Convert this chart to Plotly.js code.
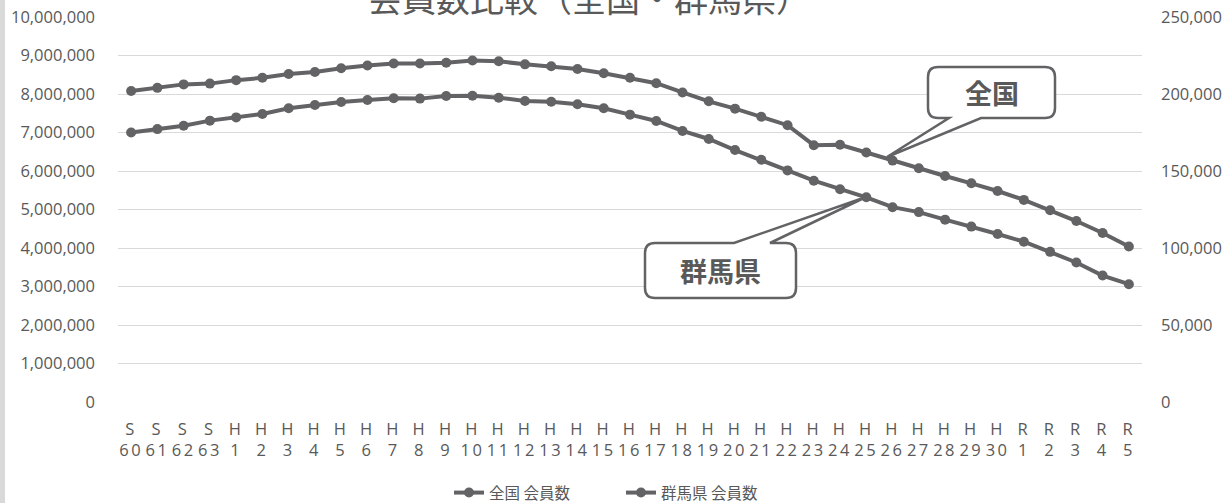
<!DOCTYPE html>
<html>
<head>
<meta charset="utf-8">
<script src="https://cdn.plot.ly/plotly-3.0.1.min.js"></script>
<style>
  html, body { margin: 0; padding: 0; background: #ffffff; }
  #chart { width: 1227px; height: 503px; }
  #chart .xtick text { letter-spacing: 2.5px; }
</style>
</head>
<body>
<div id="chart"></div>
<script>
// ---- data ----
const years = ['S60','S61','S62','S63',
  'H1','H2','H3','H4','H5','H6','H7','H8','H9','H10',
  'H11','H12','H13','H14','H15','H16','H17','H18','H19','H20',
  'H21','H22','H23','H24','H25','H26','H27','H28','H29','H30',
  'R1','R2','R3','R4','R5'];
const nationalMembers = [8080000, 8160000, 8250000, 8270000,
  8360000, 8420000, 8520000, 8570000, 8670000, 8740000, 8790000, 8790000, 8810000, 8870000,
  8850000, 8770000, 8720000, 8650000, 8540000, 8420000, 8280000, 8040000, 7810000, 7620000,
  7410000, 7190000, 6670000, 6680000, 6480000, 6270000, 6070000, 5870000, 5680000, 5480000,
  5250000, 4980000, 4700000, 4390000, 4040000];
const gunmaMembers = [175000, 177200, 179400, 182700,
  184800, 187000, 190700, 192900, 194800, 196100, 197200, 197000, 198700, 198900,
  197600, 195500, 195000, 193300, 190700, 186600, 182500, 176000, 170800, 163600,
  157300, 150400, 143700, 138100, 132900, 126500, 123300, 118400, 113900, 109100,
  104100, 97500, 90600, 82100, 76500];
const seriesNames = ['全国 会員数', '群馬県 会員数'];
const chartTitle = '会員数比較（全国・群馬県）';
const calloutLabels = ['全国', '群馬県'];

// two-line tick labels: era letter over year number
const tickText = years.map(y => y.charAt(0) + '<br>' + y.slice(1));

// ---- styling ----
const lineColor = '#636366';
const textColor = '#595959';
const gridColor = '#d9d9d9';
const cjk = '"Noto Sans CJK JP", "Noto Sans", sans-serif';
const latin = '"Open Sans", "Noto Sans", sans-serif';

// plot-area geometry (pixels)
const W = 1227, H = 503;
const L = 118, R = 1142, T = 17, B = 402;
const px = p => (p - L) / (R - L);
const py = p => (B - p) / (B - T);

function roundedCallout(x0, y0, x1, y1, r, side, b0, b1, tx, ty) {
  const P = (x, y) => px(x).toFixed(5) + ',' + py(y).toFixed(5);
  let d = 'M' + P(x0 + r, y0);
  if (side === 'top') d += ' L' + P(b0, y0) + ' L' + P(tx, ty) + ' L' + P(b1, y0);
  d += ' L' + P(x1 - r, y0) + ' Q' + P(x1, y0) + ' ' + P(x1, y0 + r);
  d += ' L' + P(x1, y1 - r) + ' Q' + P(x1, y1) + ' ' + P(x1 - r, y1);
  if (side === 'bottom') d += ' L' + P(b1, y1) + ' L' + P(tx, ty) + ' L' + P(b0, y1);
  d += ' L' + P(x0 + r, y1) + ' Q' + P(x0, y1) + ' ' + P(x0, y1 - r);
  d += ' L' + P(x0, y0 + r) + ' Q' + P(x0, y0) + ' ' + P(x0 + r, y0) + ' Z';
  return d;
}

const traces = [
  {
    x: years, y: nationalMembers, name: seriesNames[0],
    type: 'scatter', mode: 'lines+markers', yaxis: 'y',
    line: { color: lineColor, width: 4 },
    marker: { color: lineColor, size: 10 },
    hoverinfo: 'skip'
  },
  {
    x: years, y: gunmaMembers, name: seriesNames[1],
    type: 'scatter', mode: 'lines+markers', yaxis: 'y2',
    line: { color: lineColor, width: 4 },
    marker: { color: lineColor, size: 10 },
    hoverinfo: 'skip'
  }
];

const layout = {
  width: W, height: H,
  margin: { l: L, r: W - R, t: T, b: H - B, pad: 0 },
  paper_bgcolor: '#ffffff',
  plot_bgcolor: '#ffffff',
  showlegend: true,
  title: {
    text: chartTitle,
    font: { family: cjk, size: 34, color: textColor },
    x: 589 / W, xref: 'container', xanchor: 'center',
    y: 1.0, yref: 'container', yanchor: 'middle'
  },
  xaxis: {
    type: 'category',
    range: [-0.5, years.length - 0.5],
    tickmode: 'array', tickvals: years, ticktext: tickText,
    tickangle: 0,
    showgrid: false, zeroline: false, showline: false, ticks: '',
    tickfont: { family: latin, size: 16.5, color: textColor },
    ticklabelstandoff: 15,
    fixedrange: true
  },
  yaxis: {
    range: [0, 10000000],
    tickmode: 'linear', tick0: 0, dtick: 1000000,
    tickformat: ',d',
    showgrid: true, gridcolor: gridColor, gridwidth: 1,
    zeroline: false, showline: false, ticks: '',
    tickfont: { family: latin, size: 16.5, color: textColor },
    ticklabelstandoff: 22,
    fixedrange: true
  },
  yaxis2: {
    overlaying: 'y', side: 'right',
    range: [0, 250000],
    tickmode: 'linear', tick0: 0, dtick: 50000,
    tickformat: ',d',
    showgrid: false, zeroline: false, showline: false, ticks: '',
    tickfont: { family: latin, size: 16.5, color: textColor },
    ticklabelstandoff: 18,
    fixedrange: true
  },
  legend: {
    orientation: 'h',
    xref: 'container', yref: 'container',
    x: 621 / W, xanchor: 'center',
    y: (H - 493) / H, yanchor: 'middle',
    entrywidth: 127,
    font: { family: cjk, size: 15.5, color: textColor },
    itemclick: false, itemdoubleclick: false
  },
  shapes: [
    { type: 'rect', xref: 'paper', yref: 'paper', layer: 'above',
      x0: px(-2), x1: px(5), y0: py(H + 5), y1: py(-5),
      fillcolor: gridColor, line: { width: 0 } },
    { type: 'path', xref: 'paper', yref: 'paper', layer: 'above',
      path: roundedCallout(928, 67, 1055, 118, 10, 'bottom', 949, 981, 887, 157),
      fillcolor: '#ffffff', line: { color: lineColor, width: 2.5 } },
    { type: 'path', xref: 'paper', yref: 'paper', layer: 'above',
      path: roundedCallout(645, 243, 796, 298, 10, 'top', 734, 770, 866, 197),
      fillcolor: '#ffffff', line: { color: lineColor, width: 2.5 } }
  ],
  annotations: [
    { text: '<b>' + calloutLabels[0] + '</b>', xref: 'paper', yref: 'paper',
      x: px(991.5), y: py(92.5), xanchor: 'center', yanchor: 'middle',
      showarrow: false, font: { family: cjk, size: 27, color: textColor } },
    { text: '<b>' + calloutLabels[1] + '</b>', xref: 'paper', yref: 'paper',
      x: px(720.5), y: py(270.5), xanchor: 'center', yanchor: 'middle',
      showarrow: false, font: { family: cjk, size: 27, color: textColor } }
  ]
};

Plotly.newPlot('chart', traces, layout, { displayModeBar: false, staticPlot: true });
</script>
</body>
</html>
